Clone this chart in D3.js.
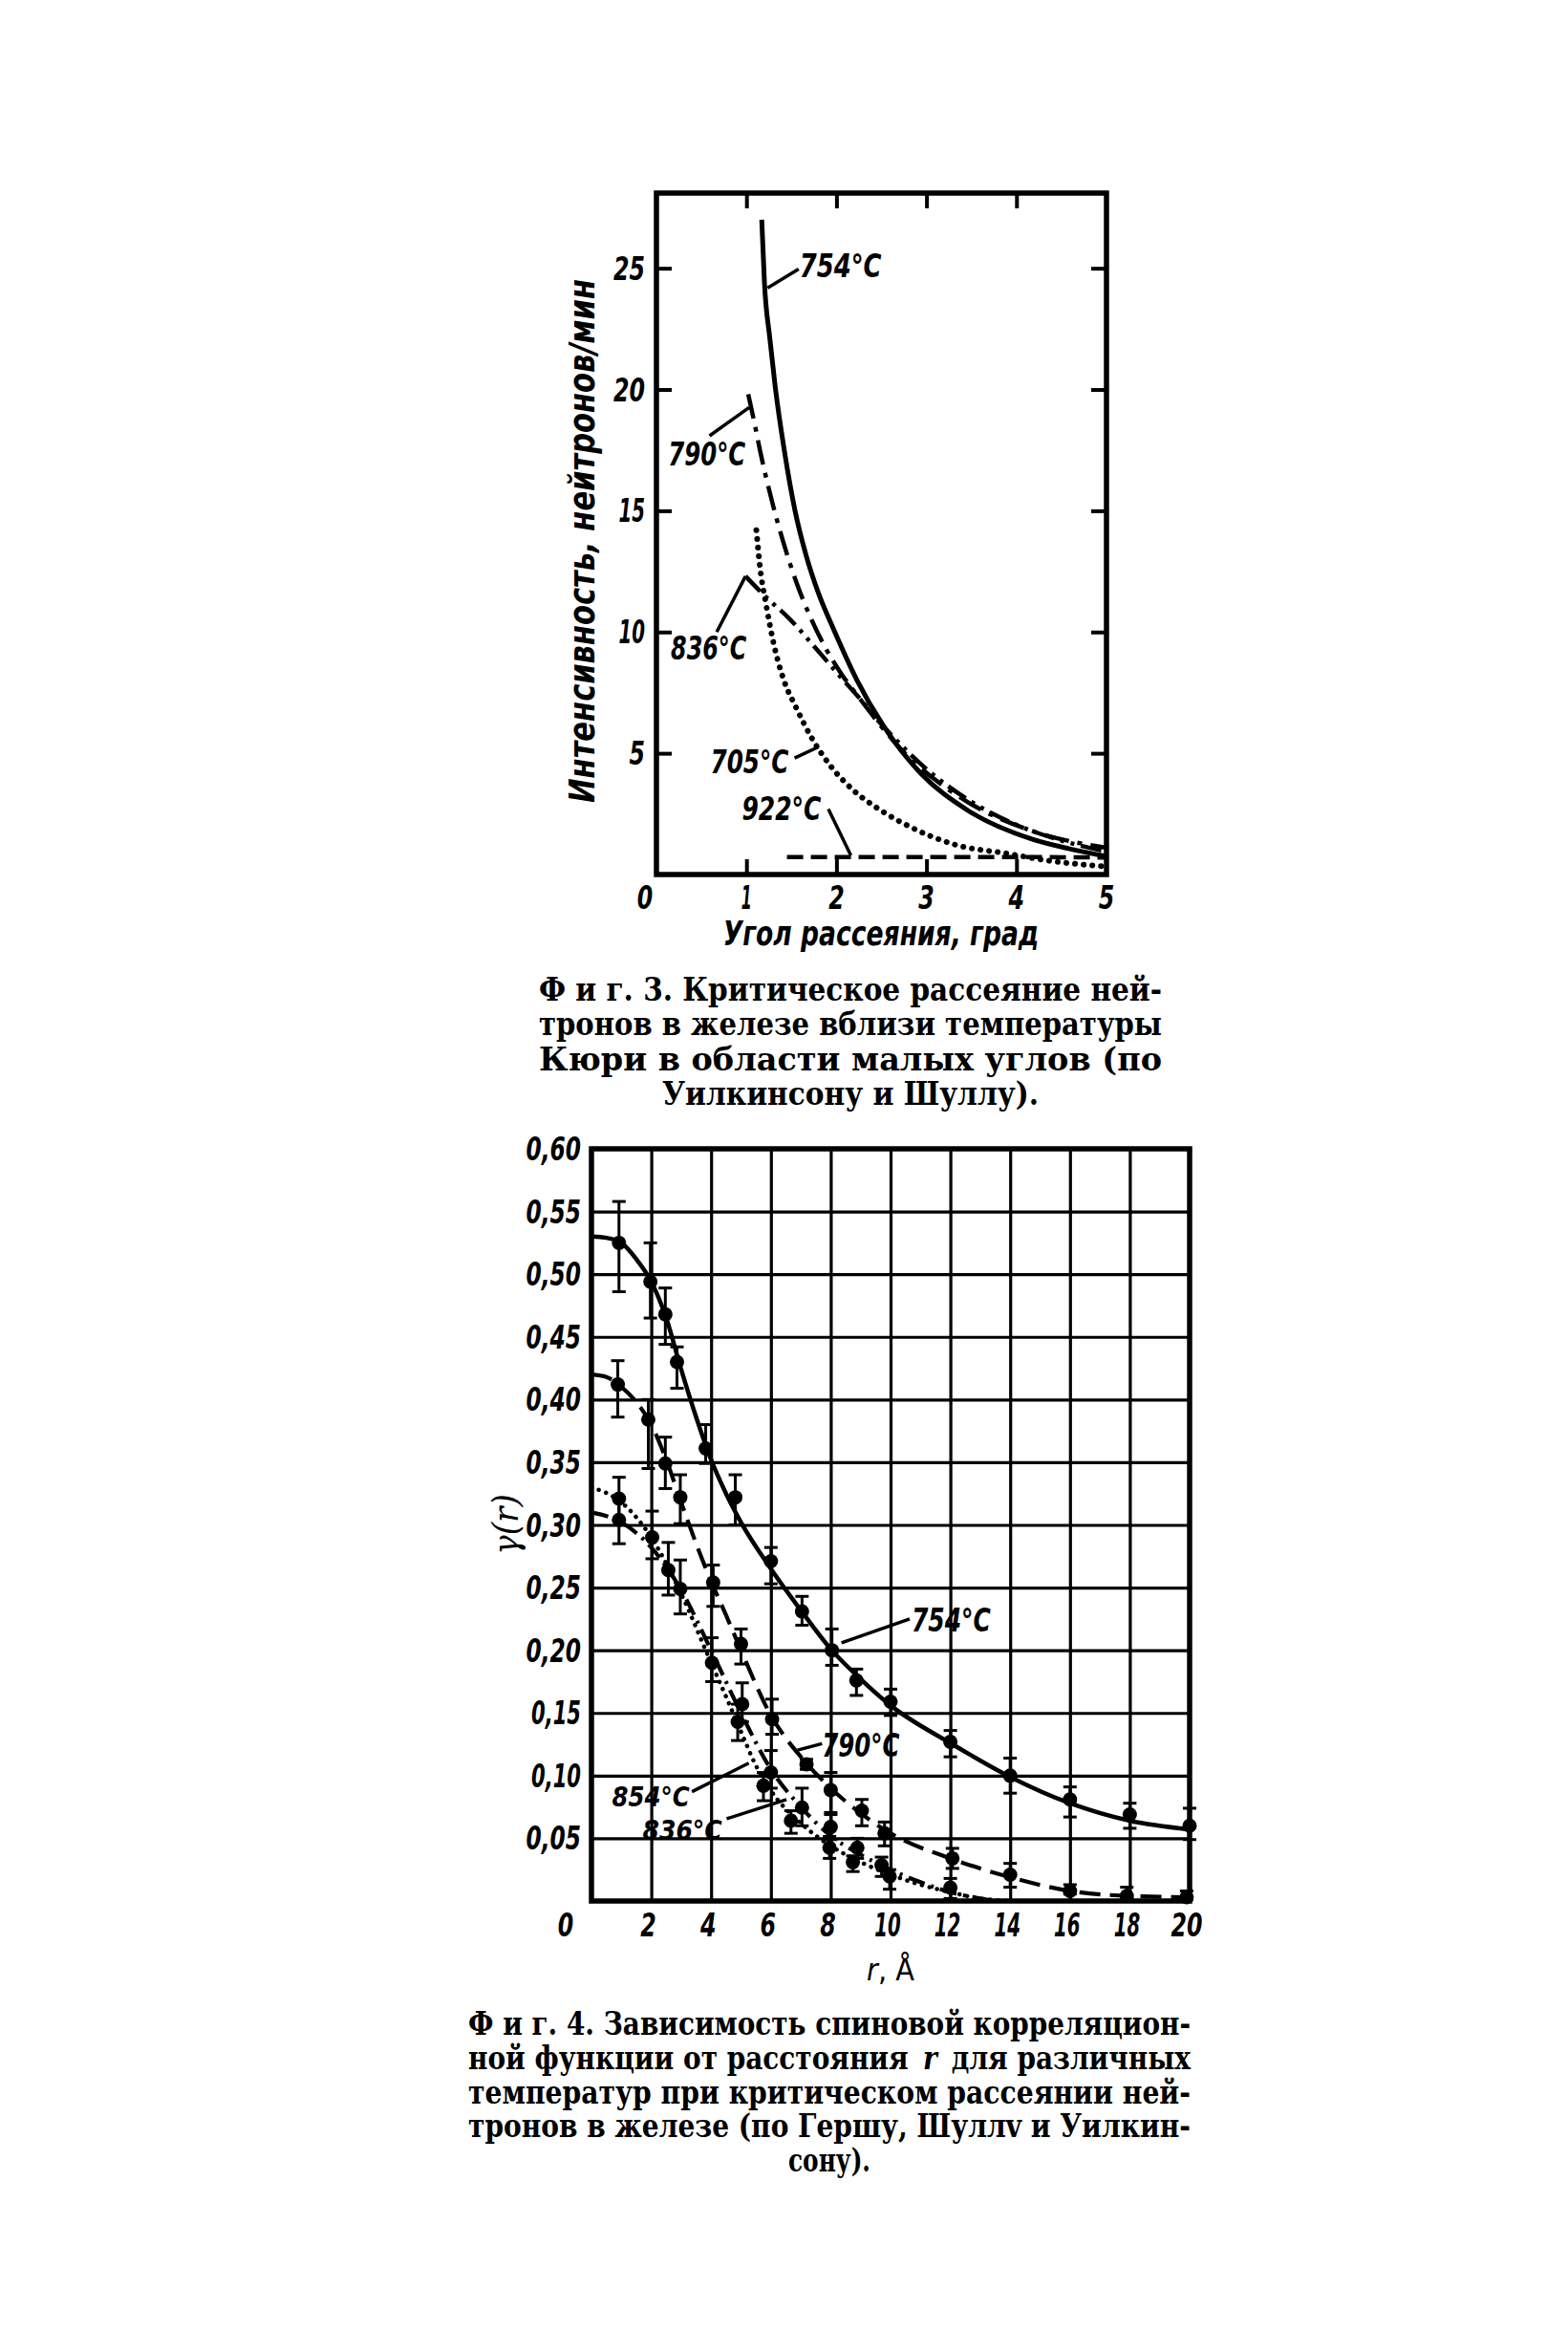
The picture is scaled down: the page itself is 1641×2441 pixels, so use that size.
<!DOCTYPE html>
<html><head><meta charset="utf-8">
<script src="https://cdn.jsdelivr.net/npm/d3@7"></script>
<style>html,body{margin:0;padding:0;background:#fff}svg{display:block}</style>
</head><body><svg id="c"></svg>
<script>
// ---------------- DATA : Fig. 3 ----------------
const fig3XTicks = [1, 2, 3, 4];
const fig3XLabels = [0, 1, 2, 3, 4, 5];
const fig3YTicks = [5, 10, 15, 20, 25];
const fig3YTitle = "Интенсивность, нейтронов/мин";
const fig3XTitle = "Угол рассеяния, град";
// curves [angle, intensity]
const fig3Curve754 = [[1.17,27.0],[1.2,24.4],[1.26,22.1],[1.32,20.1],[1.42,17.5],[1.54,15.0],[1.66,13.2],[1.8,11.6],[1.97,10.1],[2.23,8.0],[2.51,6.2],[2.93,4.2],[3.46,2.64],[4.17,1.46],[4.6,1.05],[5,0.75]];
const fig3Curve790 = [[1.02,19.8],[1.09,18.6],[1.15,17.5],[1.29,15.3],[1.41,13.7],[1.55,12.1],[1.70,10.7],[1.87,9.4],[2.05,8.3],[2.25,7.3],[2.5,6.1],[2.76,5.0],[3.1,3.9],[3.43,3.05],[4.17,1.8],[5,1.1]];
const fig3Curve836 = [[0.99,12.3],[1.2,11.5],[1.49,10.5],[1.8,9.2],[2.08,8.0],[2.25,7.3],[2.45,6.4],[2.65,5.6],[3.0,4.35],[3.5,3.0],[4.0,2.05],[4.5,1.4],[5,0.95]];
const fig3Curve705 = [[1.11,14.2],[1.15,12.7],[1.22,11.1],[1.31,9.4],[1.41,8.07],[1.55,6.9],[1.73,5.6],[1.93,4.5],[2.18,3.5],[2.47,2.7],[2.8,2.0],[3.3,1.25],[3.92,0.85],[4.3,0.6],[5,0.33]];
const fig3Curve922 = [[1.45,0.72],[2,0.72],[3,0.72],[4,0.72],[5,0.7]];
// labels: text, left, right, baseline, leader from, leader to
const fig3Labels = [
  {t:"754°C", l:1.59, r:2.50, b:24.65, p:[[1.235,24.19],[1.58,24.97]]},
  {t:"790°C", l:0.13, r:0.99, b:16.86, p:[[0.59,18.09],[1.03,19.26]]},
  {t:"836°C", l:0.16, r:1.00, b:8.86,  p:[[0.67,10.0],[0.99,12.3]]},
  {t:"705°C", l:0.60, r:1.47, b:4.17,  p:[[1.535,4.80],[1.80,5.26]]},
  {t:"922°C", l:0.95, r:1.83, b:2.24,  p:[[1.91,2.70],[2.16,0.79]]}
];
// caption lines, each split into runs: [text, italic?]
const caption3 = [[["Ф и г. 3. Критическое рассеяние ней-",0]],[["тронов в железе вблизи температуры",0]],[["Кюри в области малых углов (по",0]],[["Уилкинсону и Шуллу).",0]]];

// ---------------- DATA : Fig. 4 ----------------
const fig4XTicks = [2,4,6,8,10,12,14,16,18];
const fig4XLabels = [0,2,4,6,8,10,12,14,16,18,20];
const fig4YTicks = [0.05,0.10,0.15,0.20,0.25,0.30,0.35,0.40,0.45,0.50,0.55];
const fig4YLabels = [0.05,0.10,0.15,0.20,0.25,0.30,0.35,0.40,0.45,0.50,0.55,0.60];
// measured points: r, gamma, low, high
const pts754r  = [0.92,1.97,2.47,2.86,3.82,4.81,6.0,7.04,8.04,8.86,10.0,12,14,16,18,20];
const pts754v  = [0.525,0.494,0.468,0.430,0.361,0.322,0.271,0.231,0.200,0.176,0.159,0.127,0.100,0.081,0.069,0.060];
const pts754lo = [0.486,0.465,0.444,0.409,0.349,0.300,0.253,0.220,0.188,0.164,0.148,0.115,0.086,0.067,0.058,0.049];
const pts754hi = [0.558,0.525,0.489,0.442,0.380,0.340,0.282,0.243,0.217,0.185,0.169,0.136,0.114,0.091,0.078,0.074];
const pts790r  = [0.88,1.9,2.47,2.97,4.07,5.0,6.04,7.19,8.0,9.04,9.8,12.07,14,16,17.9,19.9];
const pts790v  = [0.412,0.384,0.349,0.322,0.254,0.205,0.145,0.109,0.0885,0.072,0.054,0.034,0.021,0.008,0.004,0.003];
const pts790lo = [0.386,0.345,0.329,0.301,0.235,0.189,0.133,0.105,0.0706,0.060,0.044,0.026,0.011,0.0056,0.002,0.001];
const pts790hi = [0.431,0.400,0.370,0.340,0.268,0.217,0.161,0.113,0.1025,0.081,0.063,0.042,0.030,0.013,0.011,0.008];
const pts854r  = [0.92,2.03,2.97,4.03,4.89,5.75,6.67,7.96,8.74,9.97,12];
const pts854v  = [0.321,0.290,0.249,0.190,0.143,0.092,0.064,0.0425,0.031,0.0196,0.0107];
const pts854lo = [0.304,0.273,0.229,0.175,0.128,0.080,0.054,0.034,0.0235,0.0094,0.002];
const pts854hi = [0.338,0.311,0.272,0.210,0.157,0.1025,0.072,0.0515,0.036,0.025,0.018];
const pts836r  = [0.92,2.57,5.04,6.0,7.04,8.0,8.89,9.7];
const pts836v  = [0.304,0.264,0.157,0.1025,0.0745,0.059,0.0425,0.0285];
const pts836lo = [0.285,0.244,0.143,0.090,0.060,0.049,0.034,0.0196];
const pts836hi = [0.322,0.286,0.174,0.120,0.090,0.069,0.050,0.035];
// fitted curves [r, gamma]
const fig4Curve754 = [[0,0.53],[0.5,0.529],[1,0.525],[1.5,0.512],[2,0.494],[2.5,0.465],[3,0.424],[3.5,0.386],[4,0.352],[4.5,0.325],[5,0.302],[6,0.265],[7,0.232],[8,0.201],[9,0.177],[10,0.156],[12,0.126],[14,0.099],[16,0.078],[18,0.064],[20,0.057]];
const fig4Curve790 = [[0,0.42],[0.5,0.418],[1,0.41],[1.5,0.398],[2,0.38],[2.5,0.352],[3,0.318],[3.5,0.285],[4,0.255],[4.5,0.228],[5,0.2],[6,0.148],[7,0.115],[8,0.09],[9,0.07],[10,0.054],[12,0.034],[14,0.019],[16,0.008],[18,0.004],[20,0.003]];
const fig4Curve854 = [[0,0.33],[1,0.318],[2,0.29],[3,0.245],[4,0.19],[4.5,0.163],[5,0.135],[5.5,0.108],[6,0.088],[7,0.062],[8,0.044],[9,0.031],[10,0.021],[11,0.013],[12,0.007],[13,0.002],[14,0]];
const fig4Curve836 = [[0,0.31],[1,0.302],[2,0.282],[3,0.248],[4,0.2],[5,0.15],[6,0.105],[7,0.075],[8,0.052],[9,0.037],[10,0.025],[11,0.015],[12,0.007],[13,0.002],[13.5,0]];
const fig4Labels = [
  {t:"754°C", l:10.7, r:13.35, b:0.2148, p:[[8.36,0.206],[10.64,0.225]]},
  {t:"790°C", l:7.71, r:10.3,  b:0.1153, p:[[6.89,0.1204],[7.71,0.1255]]},
  {t:"854°C", l:0.69, r:3.28,  b:0.0758, p:[[3.36,0.0872],[5.26,0.110]]},
  {t:"836°C", l:1.71, r:4.37,  b:0.0490, p:[[4.52,0.0656],[6.52,0.0809]]}
];
const caption4 = [[["Ф и г. 4. Зависимость спиновой корреляцион-",0]],[["ной функции от расстояния",0],["r",1],["для различных",0]],[["температур при критическом рассеянии ней-",0]],[["тронов в железе (по Гершу, Шуллv и Уилкин-",0]],[["сону).",0]]];

// ---------------- DRAWING ----------------
const svg = d3.select('#c').attr('width',1641).attr('height',2441);
svg.append('rect').attr('width',1641).attr('height',2441).attr('fill','#fff');
const SANS = "'DejaVu Sans Condensed','DejaVu Sans',sans-serif";
const SERIF = "'DejaVu Serif Condensed','DejaVu Serif',serif";

function numWidth(s){let w=0;for(const c of s){w+= c==='1'?11 : (c===','?8:16.5);}return w;}
function biText(g,s,x,y,anchor,size,len){
  const t=g.append('text').attr('x',x).attr('y',y).text(s)
    .attr('font-family',SANS).attr('font-weight','bold').attr('font-style','oblique')
    .attr('font-size',size).attr('text-anchor',anchor).attr('fill','#000');
  if(len) t.attr('textLength',len).attr('lengthAdjust','spacingAndGlyphs');
  return t;
}
function curve(g,data,x,y,w,dash,cap){
  const line=d3.line().x(d=>x(d[0])).y(d=>y(d[1])).curve(d3.curveMonotoneX);
  const p=g.append('path').attr('d',line(data)).attr('fill','none').attr('stroke','#000')
    .attr('stroke-width',w).attr('stroke-linejoin','round');
  if(dash) p.attr('stroke-dasharray',dash);
  if(cap) p.attr('stroke-linecap',cap);
}
function leader(g,pts,x,y,w){
  g.append('path').attr('d',d3.line().x(d=>x(d[0])).y(d=>y(d[1]))(pts))
   .attr('stroke','#000').attr('stroke-width',w).attr('fill','none');
}

// ===== Fig 3 =====
const x3 = d3.scaleLinear().domain([0,5]).range([687,1158]);
const y3 = d3.scaleLinear().domain([0,28.1]).range([915,202]);
const g3 = svg.append('g');
const tk = (sel)=>{sel.select('.domain').remove();sel.selectAll('line').attr('stroke','#000').attr('stroke-width',4);};
g3.append('g').attr('transform',`translate(0,${y3(0)})`).call(d3.axisBottom(x3).tickValues(fig3XTicks).tickSizeInner(-16).tickSizeOuter(0).tickFormat('')).call(tk);
g3.append('g').attr('transform',`translate(0,${y3(28.1)})`).call(d3.axisTop(x3).tickValues(fig3XTicks).tickSizeInner(-16).tickSizeOuter(0).tickFormat('')).call(tk);
g3.append('g').attr('transform',`translate(${x3(0)},0)`).call(d3.axisLeft(y3).tickValues(fig3YTicks).tickSizeInner(-16).tickSizeOuter(0).tickFormat('')).call(tk);
g3.append('g').attr('transform',`translate(${x3(5)},0)`).call(d3.axisRight(y3).tickValues(fig3YTicks).tickSizeInner(-16).tickSizeOuter(0).tickFormat('')).call(tk);
g3.append('rect').attr('x',x3(0)).attr('y',y3(28.1)).attr('width',x3(5)-x3(0)).attr('height',y3(0)-y3(28.1))
  .attr('fill','none').attr('stroke','#000').attr('stroke-width',5.5);
fig3YTicks.forEach(v=>biText(g3,String(v),x3(0)-12,y3(v)+12,'end',33,numWidth(String(v))));
fig3XLabels.forEach(v=>biText(g3,String(v),v===0?x3(0)-12:x3(v),951,'middle',33,numWidth(String(v))));
biText(g3,fig3XTitle,(x3(0.74)+x3(4.25))/2,989,'middle',36,x3(4.25)-x3(0.74));
biText(g3,fig3YTitle,0,0,'middle',37,548).attr('transform','translate(622,566) rotate(-90)');

curve(g3,fig3Curve922,x3,y3,4.5,'17,8');
curve(g3,fig3Curve705,x3,y3,6,'0.1,9','round');
curve(g3,fig3Curve836,x3,y3,4.5,'22,7,4,7,4,7');
curve(g3,fig3Curve790,x3,y3,4.5,'26,9,5,9');
curve(g3,fig3Curve754,x3,y3,5,null);
fig3Labels.forEach(d=>{
  biText(g3,d.t,x3(d.l),y3(d.b),'start',33,x3(d.r)-x3(d.l));
  leader(g3,d.p,x3,y3,3.5);
});
// captions
function capText(parent,s,x,y,italic,len,anchor){
  const t=parent.append('text').attr('x',x).attr('y',y).text(s).attr('font-family',SERIF).attr('font-size',33)
    .attr('font-weight','bold').attr('fill','#000').attr('text-anchor',anchor||'start');
  if(italic) t.attr('font-style','italic');
  if(len) t.attr('textLength',len).attr('lengthAdjust','spacingAndGlyphs');
  return t;
}
function caption(lines,x0,x1,base0,step,lastW){
  lines.forEach((runs,i)=>{
    const y=base0+i*step;
    if(i===lines.length-1){capText(svg,runs[0][0],(x0+x1)/2,y,runs[0][1],lastW,'middle');return;}
    if(runs.length===1){capText(svg,runs[0][0],x0,y,runs[0][1],x1-x0);return;}
    // several runs: lay them out at natural width, then squeeze the whole group to the line width
    const g=svg.append('g');
    const gap=16;
    let x=0;
    runs.forEach(r=>{const t=capText(g,r[0],x,0,r[1]); x+=t.node().getComputedTextLength()+gap;});
    x-=gap;
    g.attr('transform',`translate(${x0},${y}) scale(${(x1-x0)/x},1)`);
  });
}
caption(caption3,564,1216,1047,36.3,394);

// ===== Fig 4 =====
const x4 = d3.scaleLinear().domain([0,20]).range([619,1245]);
const y4 = d3.scaleLinear().domain([0,0.6]).range([1989,1202]);
const g4 = svg.append('g');
const gr = (sel)=>{sel.select('.domain').remove();sel.selectAll('line').attr('stroke','#000').attr('stroke-width',3.2);};
g4.append('g').attr('transform',`translate(0,${y4(0)})`).call(d3.axisBottom(x4).tickValues(fig4XTicks).tickSizeInner(-(y4(0)-y4(0.6))).tickSizeOuter(0).tickFormat('')).call(gr);
g4.append('g').attr('transform',`translate(${x4(0)},0)`).call(d3.axisLeft(y4).tickValues(fig4YTicks).tickSizeInner(-(x4(20)-x4(0))).tickSizeOuter(0).tickFormat('')).call(gr);
g4.append('rect').attr('x',x4(0)).attr('y',y4(0.6)).attr('width',x4(20)-x4(0)).attr('height',y4(0)-y4(0.6))
  .attr('fill','none').attr('stroke','#000').attr('stroke-width',5.5);
const fmt = v=>v.toFixed(2).replace('.',',');
fig4YLabels.forEach(v=>biText(g4,fmt(v),x4(0)-11,y4(v)+12,'end',33,numWidth(fmt(v))));
fig4XLabels.forEach(v=>biText(g4,String(v),v===0?x4(0)-27:x4(v)-3,2026,'middle',33,numWidth(String(v))));
// r, Å
const rt = g4.append('text').attr('x',x4(10)).attr('y',2072).attr('text-anchor','middle')
  .attr('font-family',SANS).attr('font-size',32).attr('fill','#000');
rt.append('tspan').text('r').attr('font-style','oblique');
rt.append('tspan').text(', Å');
// gamma(r)
g4.append('text').attr('transform','translate(542,1595) rotate(-90)').attr('text-anchor','middle')
  .attr('font-family',SERIF).attr('font-style','italic').attr('font-size',38).attr('fill','#000').text('γ(r)');

curve(g4,fig4Curve854,x4,y4,4.5,'0.1,8','round');
curve(g4,fig4Curve836,x4,y4,4.2,'18,7,3,7');
curve(g4,fig4Curve790,x4,y4,4.2,'22,10');
curve(g4,fig4Curve754,x4,y4,4.5,null);
function points(r,v,lo,hi){
  r.forEach((rv,i)=>{
    const cx=x4(rv);
    g4.append('line').attr('x1',cx).attr('x2',cx).attr('y1',y4(lo[i])).attr('y2',y4(hi[i])).attr('stroke','#000').attr('stroke-width',3);
    [lo[i],hi[i]].forEach(e=>g4.append('line').attr('x1',cx-7).attr('x2',cx+7).attr('y1',y4(e)).attr('y2',y4(e)).attr('stroke','#000').attr('stroke-width',3));
    g4.append('circle').attr('cx',cx).attr('cy',y4(v[i])).attr('r',7.5).attr('fill','#000');
  });
}
points(pts754r,pts754v,pts754lo,pts754hi);
points(pts790r,pts790v,pts790lo,pts790hi);
points(pts854r,pts854v,pts854lo,pts854hi);
points(pts836r,pts836v,pts836lo,pts836hi);
fig4Labels.forEach(d=>{
  biText(g4,d.t,x4(d.l),y4(d.b),'start',d.t==='854°C'||d.t==='836°C'?29:33,x4(d.r)-x4(d.l));
  leader(g4,d.p,x4,y4,3.5);
});
caption(caption4,490,1246,2129,35.8,86);
</script></body></html>
